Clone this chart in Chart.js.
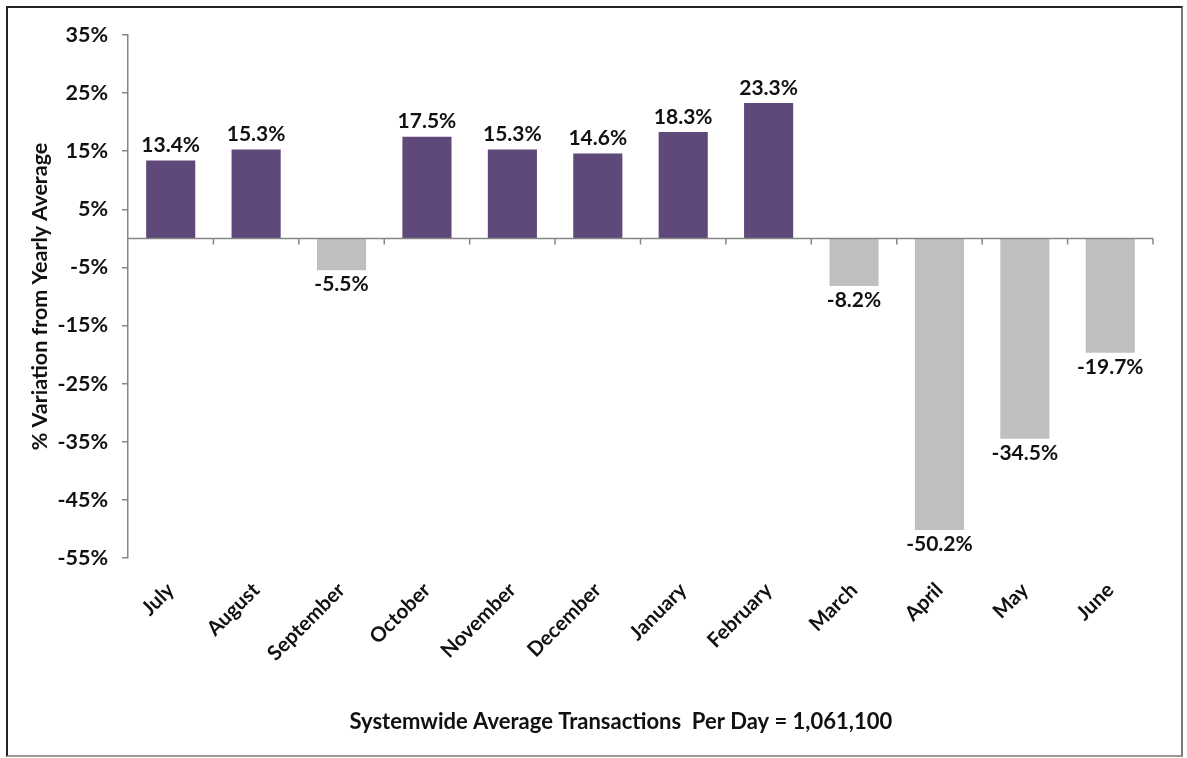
<!DOCTYPE html>
<html>
<head>
<meta charset="utf-8">
<script src="https://cdn.jsdelivr.net/npm/chart.js@4.4.1/dist/chart.umd.min.js"></script>
<style>
  html, body { margin: 0; padding: 0; background: #fff; }
  #frame { position: absolute; left: 6px; top: 6px; width: 1177px; height: 751px; box-sizing: border-box;
           border-left: 2px solid #222; border-top: 2px solid #222; border-right: 2px solid #777; border-bottom: 2px solid #999; }
  canvas { display: block; }
</style>
</head>
<body>
<div id="frame"><canvas id="c" width="1173" height="747"></canvas></div>
<script>
const categories = ["July","August","September","October","November","December","January","February","March","April","May","June"];
const variation = [13.4, 15.3, -5.5, 17.5, 15.3, 14.6, 18.3, 23.3, -8.2, -50.2, -34.5, -19.7];
const yTicks = [-55, -45, -35, -25, -15, -5, 5, 15, 25, 35];
const yTitle = "% Variation from Yearly Average";
const caption = "Systemwide Average Transactions  Per Day = 1,061,100";
const posColor = "#5F497A";
const negColor = "#BFBFBF";
const FONT = "Lato, 'Open Sans', sans-serif";

const zeroLine = {
  id: 'zeroLine',
  afterDatasetsDraw(chart) {
    const {ctx, chartArea, scales: {x, y}} = chart;
    const y0 = y.getPixelForValue(0);
    ctx.save();
    ctx.strokeStyle = '#868686';
    ctx.lineWidth = 1.5;
    ctx.beginPath();
    ctx.moveTo(chartArea.left, y0);
    ctx.lineTo(chartArea.right, y0);
    for (let i = 0; i < categories.length; i++) {
      const bx = i < categories.length - 1
        ? (x.getPixelForValue(i) + x.getPixelForValue(i + 1)) / 2
        : chartArea.right;
      ctx.moveTo(bx, y0);
      ctx.lineTo(bx, y0 + 6);
    }
    ctx.stroke();
    ctx.restore();
  }
};

const valueLabels = {
  id: 'valueLabels',
  afterDatasetsDraw(chart) {
    const {ctx} = chart;
    const meta = chart.getDatasetMeta(0);
    ctx.save();
    ctx.font = "bold 21px " + FONT;
    ctx.fillStyle = '#111';
    ctx.textAlign = 'center';
    ctx.textBaseline = 'middle';
    meta.data.forEach((bar, i) => {
      const v = variation[i];
      const yy = v >= 0 ? bar.y - 15 : bar.y + 14;
      ctx.fillText(v.toFixed(1) + '%', bar.x, yy);
    });
    ctx.restore();
  }
};

const captionPlugin = {
  id: 'captionPlugin',
  afterDraw(chart) {
    const {ctx} = chart;
    ctx.save();
    ctx.font = "bold 22px " + FONT;
    ctx.fillStyle = '#111';
    ctx.textAlign = 'center';
    ctx.textBaseline = 'middle';
    ctx.fillText(caption, chart.width * 0.5225, chart.height - 33);
    ctx.restore();
  }
};

new Chart(document.getElementById('c'), {
  type: 'bar',
  data: {
    labels: categories,
    datasets: [{
      data: variation,
      backgroundColor: variation.map(v => v >= 0 ? posColor : negColor),
      categoryPercentage: 1.0,
      barPercentage: 0.575
    }]
  },
  options: {
    responsive: false,
    animation: false,
    layout: { padding: { top: 27, right: 28, left: 0, bottom: 0 } },
    plugins: {
      legend: { display: false },
      tooltip: { enabled: false },
      title: { display: false }
    },
    scales: {
      x: {
        grid: { display: false },
        border: { display: false },
        ticks: {
          color: '#111',
          font: { family: FONT, size: 20.5, weight: 'bold' },
          minRotation: 45, maxRotation: 45,
          padding: 12,
          autoSkip: false
        },
        afterFit(scale) { scale.height = 197; }
      },
      y: {
        min: -55, max: 35,
        afterBuildTicks(scale) { scale.ticks = yTicks.map(v => ({ value: v })); },
        grid: { drawOnChartArea: false, color: '#868686', tickLength: 6, lineWidth: 1.5 },
        border: { color: '#868686', width: 1.5 },
        ticks: {
          color: '#111',
          padding: 14,
          font: { family: FONT, size: 21.5, weight: 'bold' },
          callback: v => v + '%'
        },
        title: {
          display: true,
          text: yTitle,
          color: '#111',
          font: { family: FONT, size: 21.5, weight: 'bold' },
          padding: { top: 19, bottom: 0 }
        },
        afterFit(scale) { scale.width = 120; }
      }
    }
  },
  plugins: [zeroLine, valueLabels, captionPlugin]
});
</script>
</body>
</html>
